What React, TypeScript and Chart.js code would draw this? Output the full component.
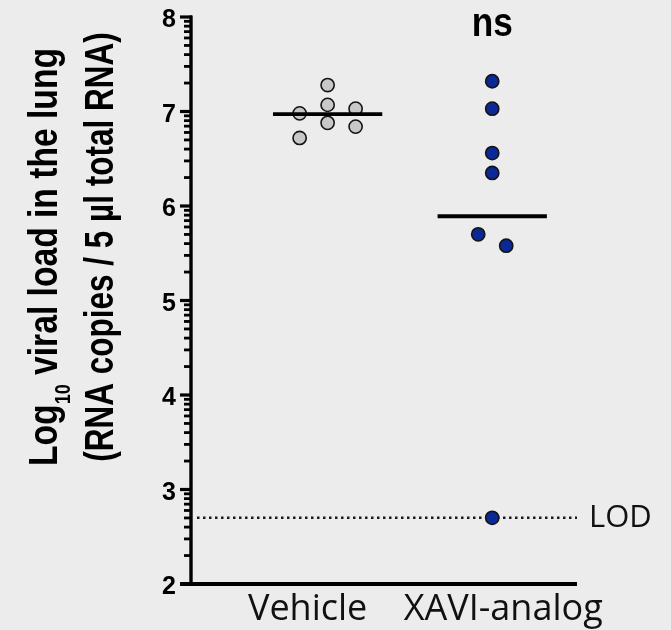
import React, { useEffect, useRef } from "react";
import { Chart, registerables } from "chart.js";

Chart.register(...registerables);

// ---------- data ----------
const categories = ["Vehicle", "XAVI-analog"];
const vehicleValues = [7.28, 7.07, 7.03, 6.98, 6.88, 6.84, 6.72];
const vehicleJitter = [0, 0, 0.17, -0.17, 0, 0.17, -0.17];
const xaviValues = [7.32, 7.03, 6.56, 6.35, 5.7, 5.58, 2.7];
const xaviJitter = [0, 0, 0, 0, -0.085, 0.085, 0];
const yMajorTicks = [2, 3, 4, 5, 6, 7, 8];
const lodValue = 2.7;
const lodLabel = "LOD";
const significanceLabel = "ns";
const yTitleMain1 = "Log";
const yTitleSub = "10";
const yTitleRest1 = " viral load in the lung";
const yTitleLine2 = "(RNA copies / 5 µl total RNA)";

const mean = (a: number[]) => a.reduce((s, v) => s + v, 0) / a.length;

const BG = "#ebeceb";
const BOLD = '"Liberation Sans", Arial, Helvetica, sans-serif';
const LIGHT = '"Open Sans", "Noto Sans", sans-serif';

const decor = {
  id: "decor",
  beforeDatasetsDraw(chart: any) {
    const { ctx, chartArea: ca, scales } = chart;
    const x = scales.x;
    const y = scales.y;
    ctx.save();
    // LOD dotted line
    const yl = y.getPixelForValue(lodValue);
    ctx.strokeStyle = "#1a1a1a";
    ctx.lineWidth = 2.5;
    ctx.setLineDash([2.5, 3.5]);
    ctx.beginPath();
    ctx.moveTo(ca.left + 6, yl);
    ctx.lineTo(ca.right, yl);
    ctx.stroke();
    ctx.setLineDash([]);

    // minor ticks (log spacing within each decade)
    ctx.strokeStyle = "#000";
    ctx.lineWidth = 2.8;
    for (let i = 0; i < yMajorTicks.length - 1; i++) {
      for (let k = 2; k <= 9; k++) {
        const py = y.getPixelForValue(yMajorTicks[i] + Math.log10(k));
        ctx.beginPath();
        ctx.moveTo(ca.left - 7, py);
        ctx.lineTo(ca.left, py);
        ctx.stroke();
      }
    }
    // major ticks
    ctx.lineWidth = 3.2;
    for (const t of yMajorTicks) {
      const py = y.getPixelForValue(t);
      ctx.beginPath();
      ctx.moveTo(ca.left - 11, py);
      ctx.lineTo(ca.left + 1, py);
      ctx.stroke();
    }
    // y axis line
    ctx.lineWidth = 3.4;
    ctx.beginPath();
    ctx.moveTo(ca.left, ca.top - 1.5);
    ctx.lineTo(ca.left, ca.bottom + 1.5);
    ctx.stroke();
    // x axis line
    ctx.lineWidth = 4;
    ctx.beginPath();
    ctx.moveTo(ca.left - 11, ca.bottom);
    ctx.lineTo(ca.right, ca.bottom);
    ctx.stroke();

    // y tick labels
    ctx.fillStyle = "#000";
    ctx.font = `bold 25px ${BOLD}`;
    ctx.textAlign = "right";
    ctx.textBaseline = "alphabetic";
    for (const t of yMajorTicks) {
      ctx.fillText(String(t), ca.left - 15, y.getPixelForValue(t) + 10);
    }

    // x category labels
    ctx.font = `36px ${LIGHT}`;
    ctx.textAlign = "center";
    ctx.fillStyle = "#111";
    ctx.fillText(categories[0], x.getPixelForValue(1) - 20, ca.bottom + 35.5);
    ctx.fillText(categories[1], x.getPixelForValue(2) + 11, ca.bottom + 35.5);

    // LOD label
    ctx.font = `31px ${LIGHT}`;
    ctx.textAlign = "left";
    ctx.fillText(lodLabel, ca.right + 12, yl + 9.5);

    // significance label
    ctx.fillStyle = "#000";
    ctx.save();
    ctx.translate(x.getPixelForValue(2), ca.top + 19);
    ctx.scale(0.88, 1);
    ctx.font = `bold 40px ${BOLD}`;
    ctx.textAlign = "center";
    ctx.fillText(significanceLabel, 0, 0);
    ctx.restore();

    // y title line 1 (with subscript)
    const mainFont = `bold 41px ${BOLD}`;
    const subFont = `bold 22px ${BOLD}`;
    ctx.save();
    ctx.translate(57, 257);
    ctx.rotate(-Math.PI / 2);
    ctx.scale(0.82, 1);
    ctx.textAlign = "left";
    ctx.font = mainFont;
    const wLog = ctx.measureText(yTitleMain1).width;
    const wRest = ctx.measureText(yTitleRest1).width;
    ctx.font = subFont;
    const wSub = ctx.measureText(yTitleSub).width;
    let cx = -(wLog + wSub + wRest) / 2;
    ctx.font = mainFont;
    ctx.fillText(yTitleMain1, cx, 0);
    cx += wLog;
    ctx.font = subFont;
    ctx.fillText(yTitleSub, cx, 13);
    cx += wSub;
    ctx.font = mainFont;
    ctx.fillText(yTitleRest1, cx, 0);
    ctx.restore();

    // y title line 2
    ctx.save();
    ctx.translate(113, 247);
    ctx.rotate(-Math.PI / 2);
    ctx.scale(0.768, 1);
    ctx.textAlign = "center";
    ctx.font = mainFont;
    ctx.fillText(yTitleLine2, 0, 0);
    ctx.restore();

    ctx.restore();
  },
};

export default function App() {
  const ref = useRef<HTMLCanvasElement | null>(null);
  useEffect(() => {
    document.body.style.margin = "0";
    document.body.style.background = BG;
    const canvas = ref.current!;
    const vMean = mean(vehicleValues);
    const xMean = mean(xaviValues);
    const meanHalf = 0.332;
    const chart = new Chart(canvas, {
      type: "scatter",
      data: {
        datasets: [
          {
            type: "line",
            label: "Vehicle mean",
            data: [
              { x: 1 - meanHalf, y: vMean },
              { x: 1 + meanHalf, y: vMean },
            ],
            borderColor: "#000",
            borderWidth: 3.8,
            pointRadius: 0,
            order: 0,
          } as any,
          {
            type: "line",
            label: "XAVI mean",
            data: [
              { x: 2 - meanHalf, y: xMean },
              { x: 2 + meanHalf, y: xMean },
            ],
            borderColor: "#000",
            borderWidth: 3.8,
            pointRadius: 0,
            order: 0,
          } as any,
          {
            label: categories[0],
            data: vehicleValues.map((v, i) => ({ x: 1 + vehicleJitter[i], y: v })),
            backgroundColor: "#c8c8c8",
            borderColor: "#151515",
            borderWidth: 1.6,
            pointRadius: 6.6,
            order: 1,
          },
          {
            label: categories[1],
            data: xaviValues.map((v, i) => ({ x: 2 + xaviJitter[i], y: v })),
            backgroundColor: "#0a2896",
            borderColor: "#151515",
            borderWidth: 1.6,
            pointRadius: 6.6,
            order: 1,
          },
        ],
      },
      options: {
        animation: false,
        responsive: false,
        layout: { padding: { left: 191, right: 94, top: 17, bottom: 46 } },
        scales: {
          x: { type: "linear", min: 0.17, max: 2.515, display: false },
          y: { type: "linear", min: 2, max: 8, display: false },
        },
        plugins: { legend: { display: false }, tooltip: { enabled: false } },
        elements: { point: { hoverRadius: 6.6 } },
        datasets: { scatter: { clip: false } as any, line: { clip: false } as any },
      } as any,
      plugins: [decor],
    });
    return () => chart.destroy();
  }, []);
  return (
    <div style={{ width: 671, height: 630, background: BG }}>
      <canvas ref={ref} width={671} height={630} style={{ display: "block" }} />
    </div>
  );
}
